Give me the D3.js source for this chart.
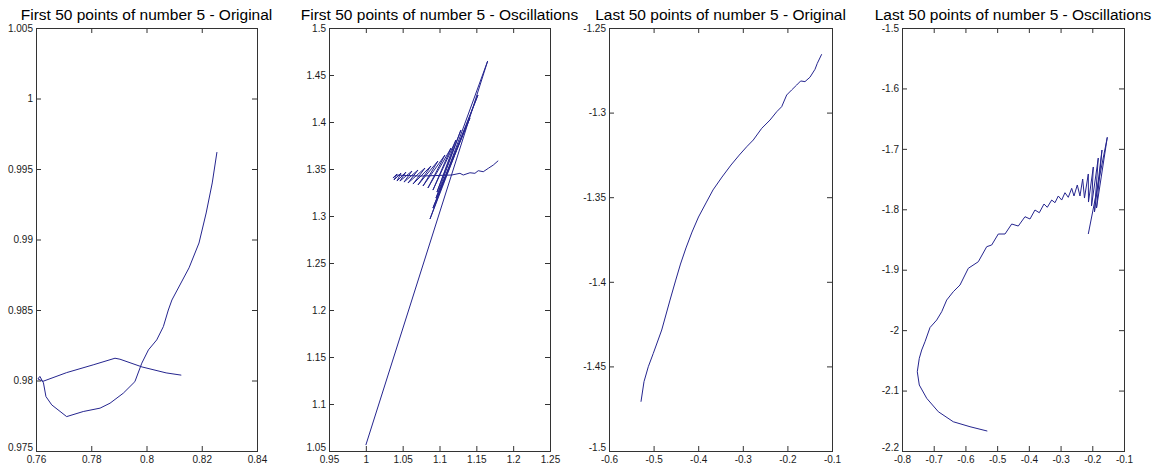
<!DOCTYPE html>
<html>
<head>
<meta charset="utf-8">
<script src="https://cdn.jsdelivr.net/npm/d3@7"></script>
<style>
  html, body { margin: 0; padding: 0; background: #fff; }
  svg { display: block; }
  .title { font-family: Arial, "Liberation Sans", sans-serif; font-size: 15.5px; fill: #000; }
  .tick text { font-family: Arial, "Liberation Sans", sans-serif; font-size: 10px; fill: #1a1a1a; }
</style>
</head>
<body>
<svg id="chart" width="1165" height="470"></svg>
<script>
// ---- Panel titles ----
const titles = [
  "First 50 points of number 5 - Original",
  "First 50 points of number 5 - Oscillations",
  "Last 50 points of number 5 - Original",
  "Last 50 points of number 5 - Oscillations"
];

// ---- Tick values ----
const firstOrigXTicks = [0.76, 0.78, 0.80, 0.82, 0.84];
const firstOrigYTicks = [0.975, 0.98, 0.985, 0.99, 0.995, 1.0, 1.005];
const firstOscXTicks = [0.95, 1.0, 1.05, 1.1, 1.15, 1.2, 1.25];
const firstOscYTicks = [1.05, 1.1, 1.15, 1.2, 1.25, 1.3, 1.35, 1.4, 1.45, 1.5];
const lastOrigXTicks = [-0.6, -0.5, -0.4, -0.3, -0.2, -0.1];
const lastOrigYTicks = [-1.5, -1.45, -1.4, -1.35, -1.3, -1.25];
const lastOscXTicks = [-0.8, -0.7, -0.6, -0.5, -0.4, -0.3, -0.2, -0.1];
const lastOscYTicks = [-2.2, -2.1, -2.0, -1.9, -1.8, -1.7, -1.6, -1.5];

// ---- Trajectories ----
const firstOrigX = [0.8255, 0.8238, 0.8216, 0.8190, 0.8154, 0.8092, 0.8079, 0.8061, 0.8037, 0.8007,
  0.7983, 0.7958, 0.7916, 0.7868, 0.7832, 0.7771, 0.7711, 0.7657, 0.7636, 0.7627,
  0.7614, 0.7607, 0.7625, 0.7711, 0.7807, 0.7886, 0.7904, 0.7984, 0.8071, 0.8126];
const firstOrigY = [0.9962, 0.99401, 0.99188, 0.98975, 0.98799, 0.98571, 0.9850, 0.98382, 0.98288, 0.98217,
  0.98123, 0.97992, 0.9791, 0.97839, 0.97804, 0.9778, 0.97744, 0.97827, 0.97886, 0.97983,
  0.98029, 0.98011, 0.97994, 0.98056, 0.98111, 0.98158, 0.98151, 0.98096, 0.98054, 0.98038];

const firstOscX = [1.000, 1.1654, 1.0871, 1.1522, 1.0911, 1.1413, 1.0952, 1.1291, 1.0966, 1.1223,
  1.0911, 1.1156, 1.0843, 1.1074, 1.0776, 1.0979, 1.0708, 1.0884, 1.0640, 1.0803,
  1.0572, 1.0708, 1.0518, 1.0626, 1.0463, 1.0545, 1.0423, 1.0477, 1.0382, 1.0423,
  1.0368, 1.0409, 1.0735, 1.1165, 1.1278, 1.1322, 1.1413, 1.1481, 1.1526, 1.1594,
  1.1662, 1.1730, 1.1797];
const firstOscY = [1.0563, 1.4649, 1.2968, 1.4287, 1.3085, 1.4042, 1.3191, 1.3915, 1.3255, 1.3808,
  1.3276, 1.3723, 1.3298, 1.3649, 1.3319, 1.3585, 1.3330, 1.3532, 1.3340, 1.3510,
  1.3351, 1.3489, 1.3361, 1.3478, 1.3372, 1.3468, 1.3372, 1.3457, 1.3383, 1.3447,
  1.3404, 1.3436, 1.3425, 1.3436, 1.3454, 1.3436, 1.3460, 1.3454, 1.3482, 1.3471,
  1.3507, 1.3542, 1.3588];

const lastOrigX = [-0.5283, -0.5215, -0.5119, -0.5007, -0.4818, -0.4632, -0.4509, -0.4397, -0.4274, -0.4139,
  -0.3993, -0.3825, -0.3668, -0.3467, -0.3265, -0.3079, -0.2913, -0.2765, -0.2576, -0.2390,
  -0.2240, -0.2128, -0.2016, -0.1904, -0.1792, -0.1702, -0.1606, -0.1494, -0.1381, -0.1330,
  -0.1231];
const lastOrigY = [-1.4709, -1.4590, -1.4502, -1.4423, -1.4285, -1.4108, -1.3995, -1.3895, -1.3800, -1.3706,
  -1.3617, -1.3534, -1.3457, -1.3381, -1.3310, -1.3251, -1.3202, -1.3162, -1.3093, -1.3044,
  -1.2995, -1.2965, -1.2896, -1.2866, -1.2837, -1.2813, -1.2817, -1.2791, -1.2744, -1.2709,
  -1.2655];

const lastOscX = [-0.5310, -0.5856, -0.6383, -0.6855, -0.7221, -0.7455, -0.7518, -0.7455, -0.7379, -0.7275,
  -0.7117, -0.6906, -0.6748, -0.6591, -0.6383, -0.6171, -0.5910, -0.5594, -0.5329, -0.5172,
  -0.4964, -0.4752, -0.4541, -0.4333, -0.4122, -0.3964, -0.3807, -0.3671, -0.3523, -0.3419,
  -0.3280, -0.3176, -0.3072, -0.2965, -0.2861, -0.2757, -0.2649, -0.2577, -0.2473, -0.2388,
  -0.2303, -0.2246, -0.2126, -0.2120, -0.1968, -0.2025, -0.1811, -0.1931, -0.1694, -0.1867,
  -0.1527, -0.2126];
const lastOscY = [-2.1670, -2.1598, -2.1516, -2.1350, -2.1128, -2.0908, -2.0688, -2.0466, -2.0329, -2.0192,
  -1.9957, -1.9833, -1.9695, -1.9502, -1.9364, -1.9253, -1.8977, -1.8868, -1.8619, -1.8591,
  -1.8409, -1.8409, -1.8244, -1.8277, -1.8123, -1.8161, -1.8012, -1.8057, -1.7913, -1.7967,
  -1.7847, -1.7891, -1.7780, -1.7847, -1.7726, -1.7802, -1.7653, -1.7780, -1.7598, -1.7780,
  -1.7499, -1.7814, -1.7416, -1.7880, -1.7300, -1.7946, -1.7152, -1.8045, -1.7019, -1.7979,
  -1.6809, -1.8409];

// ---- Panel layout (pixel boxes of each axes) ----
const panels = [
  { box: [36, 257], xs: firstOrigX, ys: firstOrigY, xt: firstOrigXTicks, yt: firstOrigYTicks },
  { box: [329, 550], xs: firstOscX, ys: firstOscY, xt: firstOscXTicks, yt: firstOscYTicks },
  { box: [609, 832], xs: lastOrigX, ys: lastOrigY, xt: lastOrigXTicks, yt: lastOrigYTicks },
  { box: [902, 1124], xs: lastOscX, ys: lastOscY, xt: lastOscXTicks, yt: lastOscYTicks }
];
const plotTop = 28, plotBottom = 451;
const lineColor = "#25258f";
const fmt = d => String(+d.toFixed(4));

const svg = d3.select("#chart");

panels.forEach((p, i) => {
  const [x0, x1] = p.box;
  const x = d3.scaleLinear().domain(d3.extent(p.xt)).range([x0, x1]);
  const y = d3.scaleLinear().domain(d3.extent(p.yt)).range([plotBottom, plotTop]);
  const g = svg.append("g");

  // curve
  const pts = p.xs.map((v, k) => [v, p.ys[k]]);
  g.append("path")
    .datum(pts)
    .attr("fill", "none")
    .attr("stroke", lineColor)
    .attr("stroke-width", 1)
    .attr("stroke-linejoin", "round")
    .attr("d", d3.line().x(d => x(d[0])).y(d => y(d[1])));

  // axes with inward ticks on all four sides
  const styleAxis = sel => {
    sel.select(".domain").remove();
    sel.selectAll(".tick line").attr("stroke", "#333");
  };
  g.append("g").attr("transform", `translate(0,${plotBottom})`)
    .call(d3.axisBottom(x).tickValues(p.xt).tickFormat(fmt).tickSizeInner(-5).tickSizeOuter(0).tickPadding(5))
    .call(styleAxis);
  g.append("g").attr("transform", `translate(0,${plotTop})`)
    .call(d3.axisTop(x).tickValues(p.xt).tickFormat("").tickSizeInner(-5).tickSizeOuter(0))
    .call(styleAxis);
  const left = g.append("g").attr("transform", `translate(${x0},0)`)
    .call(d3.axisLeft(y).tickValues(p.yt).tickFormat(fmt).tickSizeInner(-5).tickSizeOuter(0).tickPadding(3))
    .call(styleAxis);
  // lowest y label sits just above the corner, clear of the first x label
  left.selectAll(".tick text").filter(d => d === p.yt[0]).attr("dy", "-0.05em");
  g.append("g").attr("transform", `translate(${x1},0)`)
    .call(d3.axisRight(y).tickValues(p.yt).tickFormat("").tickSizeInner(-5).tickSizeOuter(0))
    .call(styleAxis);

  // axes box
  g.append("rect")
    .attr("x", x0 + 0.5).attr("y", plotTop + 0.5)
    .attr("width", x1 - x0).attr("height", plotBottom - plotTop)
    .attr("fill", "none").attr("stroke", "#333").attr("stroke-width", 1);

  // title
  svg.append("text").attr("class", "title")
    .attr("x", (x0 + x1) / 2).attr("y", 19.5)
    .attr("text-anchor", "middle")
    .text(titles[i]);
});
</script>
</body>
</html>
